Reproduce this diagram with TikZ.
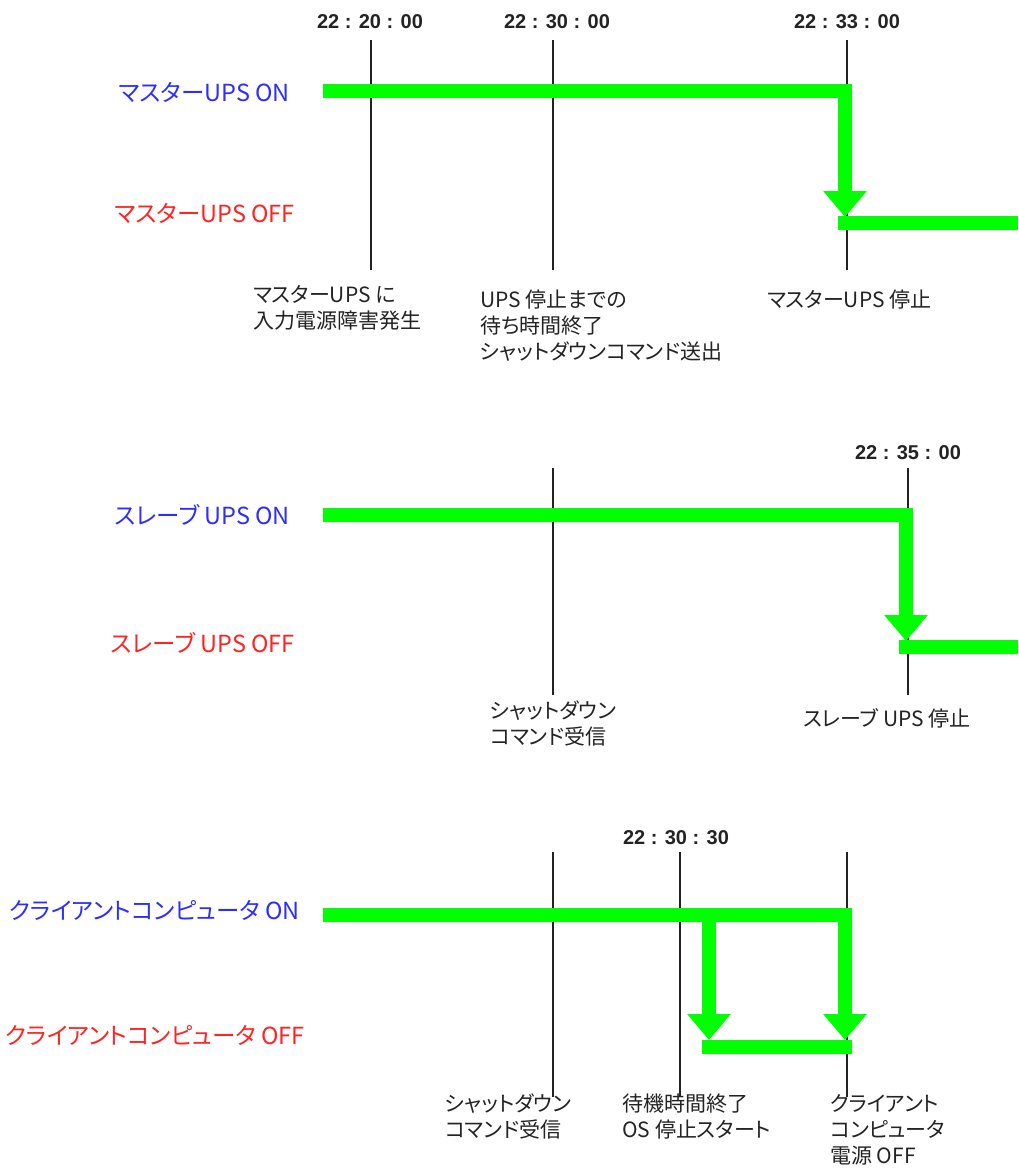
\documentclass[tikz,border=0pt]{standalone}
\usepackage{fontspec}
\setmainfont{Noto Sans CJK JP}[RawFeature=+palt]
\newfontfamily\timefont{Liberation Sans}
\usetikzlibrary{arrows.meta}
\definecolor{onblue}{RGB}{45,45,255}
\definecolor{offred}{RGB}{255,35,35}
\definecolor{sig}{RGB}{0,255,0}
\definecolor{ink}{RGB}{35,35,35}
\begin{document}
\begin{tikzpicture}[x=1pt,y=-1pt,
  onlbl/.style={anchor=east,inner sep=0pt,text=onblue,font=\fontsize{23.5}{28}\selectfont},
  offlbl/.style={anchor=east,inner sep=0pt,text=offred,font=\fontsize{23.5}{28}\selectfont},
  timelbl/.style={inner sep=0pt,text=ink,font=\timefont\bfseries\fontsize{20}{22}\selectfont},
  note/.style={anchor=north west,inner sep=0pt,align=left,text=ink,font=\fontsize{21}{26}\selectfont},
  notel/.style={anchor=west,inner sep=0pt,text=ink,font=\fontsize{21}{26}\selectfont},
  marker/.style={line width=1.3pt,draw=ink},
  signal/.style={draw=sig,line width=14pt,line join=miter},
  arr/.style={-{Triangle[width=42pt,length=26pt]}}
]
\useasboundingbox[fill=white] (0,0) rectangle (1018,1173);

% time labels
\node[timelbl] (t1) at (370,22) {22 : 20 : 00};
\node[timelbl] (t2) at (557,22) {22 : 30 : 00};
\node[timelbl] (t3) at (847,22) {22 : 33 : 00};
\node[timelbl] (t4) at (908,453) {22 : 35 : 00};
\node[timelbl] (t5) at (676,838) {22 : 30 : 30};

% state labels
\node[onlbl]  (l1on)  at (290,92)   {マスターUPS ON};
\node[offlbl] (l1off) at (295,213)  {マスターUPS OFF};
\node[onlbl]  (l2on)  at (290,515)  {スレーブ UPS ON};
\node[offlbl] (l2off) at (295,643)  {スレーブ UPS OFF};
\node[onlbl]  (l3on)  at (300,910)  {クライアントコンピュータ ON};
\node[offlbl] (l3off) at (305,1035) {クライアントコンピュータ OFF};

% event notes
\node[note]  (n1) at (253,285)  {マスターUPS に\\入力電源障害発生};
\node[note]  (n2) at (480,290)  {UPS 停止までの\\待ち時間終了\\シャットダウンコマンド送出};
\node[notel] (n3) at (767,300)  {マスターUPS 停止};
\node[note]  (n4) at (490,701)  {シャットダウン\\コマンド受信};
\node[notel] (n5) at (803,718)  {スレーブ UPS 停止};
\node[note]  (n6) at (445,1094) {シャットダウン\\コマンド受信};
\node[note]  (n7) at (622,1094) {待機時間終了\\OS 停止スタート};
\node[note]  (n8) at (830,1094) {クライアント\\コンピュータ\\電源 OFF};

% time markers
\foreach \n/\x/\ya/\yb in {ma/371/40/270, mb/553/40/270, mc/847/40/270,
                           md/553/468/695, me/908/468/695,
                           mf/553/852/1097, mg/680/852/1097, mh/847/852/1097}{
  \coordinate (\n top) at (\x,\ya);
  \coordinate (\n bot) at (\x,\yb);
  \draw[marker] (\n top) -- (\n bot);
}

% section 1 signal
\coordinate (s1a) at (323,91);
\coordinate (s1b) at (845,91);
\coordinate (s1c) at (845,217);
\coordinate (s1d) at (838,223);
\coordinate (s1e) at (1018,223);
\draw[signal,arr] (s1a) -- (s1b) -- (s1c);
\draw[signal] (s1d) -- (s1e);

% section 2 signal
\coordinate (s2a) at (323,515);
\coordinate (s2b) at (906,515);
\coordinate (s2c) at (906,641);
\coordinate (s2d) at (899,647);
\coordinate (s2e) at (1018,647);
\draw[signal,arr] (s2a) -- (s2b) -- (s2c);
\draw[signal] (s2d) -- (s2e);

% section 3 signal
\coordinate (s3a) at (323,915);
\coordinate (s3b) at (845,915);
\coordinate (s3c) at (845,1040);
\coordinate (s3f) at (709,915);
\coordinate (s3g) at (709,1040);
\coordinate (s3d) at (702,1047);
\coordinate (s3e) at (852,1047);
\draw[signal,arr] (s3a) -- (s3b) -- (s3c);
\draw[signal,arr] (s3f) -- (s3g);
\draw[signal] (s3d) -- (s3e);
\end{tikzpicture}
\end{document}
